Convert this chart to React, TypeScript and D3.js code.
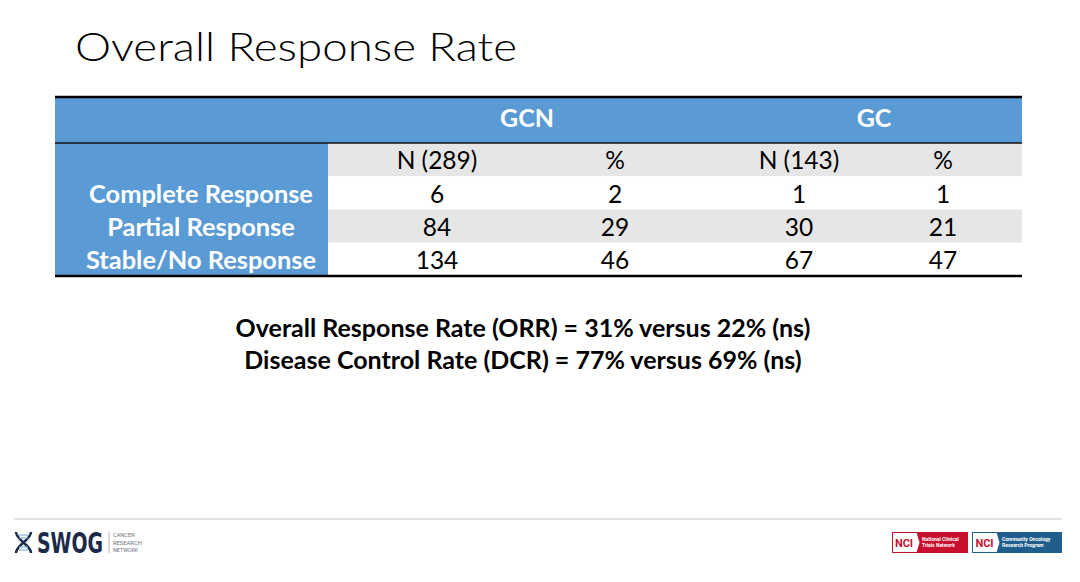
import React from "react";
import * as d3 from "d3";

const title = "Overall Response Rate";
const groups = ["GCN", "GC"];
const columns = ["N (289)", "%", "N (143)", "%"];
const categories = ["Complete Response", "Partial Response", "Stable/No Response"];
const gcnN = [6, 84, 134];
const gcnPct = [2, 29, 46];
const gcN = [1, 30, 67];
const gcPct = [1, 21, 47];
const summaryLines = [
  "Overall Response Rate (ORR) = 31% versus 22% (ns)",
  "Disease Control Rate (DCR) = 77% versus 69% (ns)",
];
const swogTagline = ["CANCER", "RESEARCH", "NETWORK"];

const W = 1080;
const H = 582;
const FONT = "Lato, Carlito, Calibri, 'Open Sans', sans-serif";
const BLUE = "#5b9bd5";
const GRAY = "#e7e6e6";

export default function App() {
  const tableLeft = 55;
  const tableRight = 1022;
  const labelRight = 328;
  const headerTop = 97;
  const headerBottom = 143;
  const tableBottom = 276;

  const rowKeys = ["sub", ...categories];
  const y = d3.scaleBand<string>().domain(rowKeys).range([headerBottom, tableBottom]).padding(0);

  const colKeys = ["c0", "c1", "c2", "c3"];
  const x = d3.scaleOrdinal<string, number>().domain(colKeys).range([437, 615, 799, 943]);
  const gx = d3.scaleOrdinal<string, number>().domain(groups).range([527, 874]);

  const rows = categories.map((c, i) => ({
    label: c,
    values: [gcnN[i], gcnPct[i], gcN[i], gcPct[i]],
  }));

  const bw = y.bandwidth();

  return (
    <svg width={W} height={H} style={{ display: "block", position: "absolute", left: 0, top: 0 }}>
      <rect x={0} y={0} width={W} height={H} fill="#ffffff" />
      <text x={75} y={61} fontFamily={FONT} fontWeight={300} fontSize={40} fill="#000"
        textLength={442} lengthAdjust="spacingAndGlyphs">{title}</text>

      {/* header */}
      <rect x={tableLeft} y={headerTop} width={tableRight - tableLeft} height={headerBottom - headerTop} fill={BLUE} />
      {groups.map((g) => (
        <text key={g} x={gx(g)} y={127} textAnchor="middle" fontFamily={FONT} fontWeight={700}
          fontSize={25} fill="#fff">{g}</text>
      ))}

      {/* label column */}
      <rect x={tableLeft} y={headerBottom} width={labelRight - tableLeft} height={tableBottom - headerBottom} fill={BLUE} />
      {/* row stripes */}
      {rowKeys.map((k, i) => (
        <rect key={k} x={labelRight} y={y(k)!} width={tableRight - labelRight} height={bw}
          fill={i % 2 === 0 ? GRAY : "#ffffff"} />
      ))}

      {/* sub header */}
      {columns.map((c, i) => (
        <text key={i} x={x(colKeys[i])} y={(y("sub") as number) + bw - 7} textAnchor="middle"
          fontFamily={FONT} fontSize={24.5} fill="#000">{c}</text>
      ))}

      {rows.map((r) => (
        <g key={r.label}>
          <text x={201} y={(y(r.label) as number) + bw - 7} textAnchor="middle" fontFamily={FONT}
            fontWeight={700} fontSize={25.4} fill="#fff">{r.label}</text>
          {r.values.map((v, j) => (
            <text key={j} x={x(colKeys[j])} y={(y(r.label) as number) + bw - 7} textAnchor="middle"
              fontFamily={FONT} fontSize={24.5} fill="#000">{v}</text>
          ))}
        </g>
      ))}

      {/* borders */}
      <line x1={tableLeft} x2={tableRight} y1={headerTop} y2={headerTop} stroke="#000" strokeWidth={2.5} />
      <line x1={tableLeft} x2={tableRight} y1={headerBottom} y2={headerBottom} stroke="#111" strokeWidth={1.5} />
      <line x1={tableLeft} x2={tableRight} y1={tableBottom} y2={tableBottom} stroke="#000" strokeWidth={2.5} />

      {/* summary */}
      {summaryLines.map((s, i) => (
        <text key={i} x={523} y={337 + i * 31.5} textAnchor="middle" fontFamily={FONT} fontWeight={700}
          fontSize={25} fill="#000">{s}</text>
      ))}

      {/* footer */}
      <line x1={14} x2={1062} y1={519} y2={519} stroke="#d9d9d9" strokeWidth={1.5} />

      {/* SWOG logo */}
      <g>
        <path d="M16,532 C16,540 31,545 31,553" fill="none" stroke="#1b2a4a" strokeWidth={2.5} />
        <path d="M31,532 C31,540 16,545 16,553" fill="none" stroke="#1b2a4a" strokeWidth={2.5} />
        <line x1={19} x2={28} y1={535} y2={535} stroke="#7fb2d9" strokeWidth={1.2} />
        <line x1={19} x2={28} y1={538} y2={538} stroke="#7fb2d9" strokeWidth={1.2} />
        <line x1={19} x2={28} y1={547} y2={547} stroke="#7fb2d9" strokeWidth={1.2} />
        <line x1={19} x2={28} y1={550} y2={550} stroke="#7fb2d9" strokeWidth={1.2} />
        <text x={37} y={553} fontFamily="'DejaVu Sans', Roboto, sans-serif" fontWeight={700} fontSize={28}
          fill="#1b2a4a" textLength={66} lengthAdjust="spacingAndGlyphs">SWOG</text>
        <line x1={109} x2={109} y1={532} y2={553} stroke="#9aa4b0" strokeWidth={0.8} />
        {swogTagline.map((t, i) => (
          <text key={t} x={113} y={536.8 + i * 7.8} fontFamily="Roboto, sans-serif" fontSize={5}
            fill="#6b7480" textLength={t.length * 3.6} lengthAdjust="spacingAndGlyphs">{t}</text>
        ))}
      </g>

      {/* NCI logos */}
      <g>
        <rect x={892} y={532} width={76} height={21} fill="#c8102e" />
        <path d="M892.5,532.5 L917,532.5 L920,542.5 L917,552.5 L892.5,552.5 Z" fill="#fff" stroke="#c8102e" strokeWidth={1} />
        <text x={904} y={547} textAnchor="middle" fontFamily="Roboto, sans-serif" fontWeight={700} fontSize={11}
          fill="#c8102e">NCI</text>
        <text x={922} y={541} fontFamily="Roboto, sans-serif" fontWeight={700} fontSize={5} fill="#fff">
          <tspan x={922} dy={0}>National Clinical</tspan>
          <tspan x={922} dy={6}>Trials Network</tspan>
        </text>

        <rect x={972} y={532} width={90} height={21} fill="#1f5e8d" />
        <path d="M972.5,532.5 L997,532.5 L1000,542.5 L997,552.5 L972.5,552.5 Z" fill="#fff" stroke="#1f5e8d" strokeWidth={1} />
        <text x={984.5} y={547} textAnchor="middle" fontFamily="Roboto, sans-serif" fontWeight={700} fontSize={11}
          fill="#c8102e">NCI</text>
        <text x={1002} y={541} fontFamily="Roboto, sans-serif" fontWeight={700} fontSize={5} fill="#fff">
          <tspan x={1002} dy={0}>Community Oncology</tspan>
          <tspan x={1002} dy={6}>Research Program</tspan>
        </text>
      </g>
    </svg>
  );
}
